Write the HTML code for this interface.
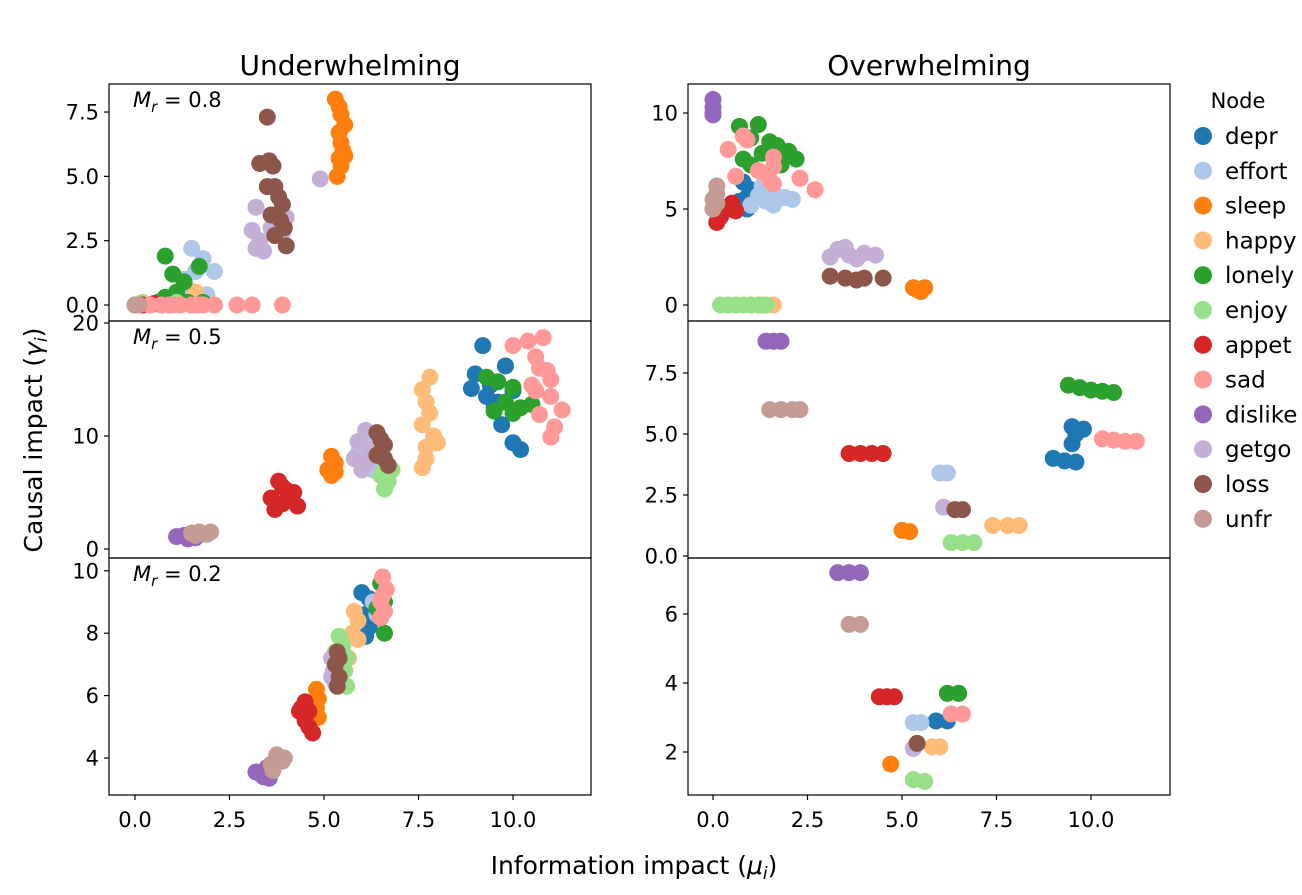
<!DOCTYPE html>
<html><head><meta charset="utf-8"><style>
html,body{margin:0;padding:0;background:#fff;width:1302px;height:895px;overflow:hidden}
svg{display:block;font-family:"DejaVu Sans","Liberation Sans",sans-serif}
</style></head><body>
<svg id="chart" width="1302" height="895" viewBox="0 0 1302 895" xmlns="http://www.w3.org/2000/svg"></svg>
<script>
const nodes = ["depr","effort","sleep","happy","lonely","enjoy","appet","sad","dislike","getgo","loss","unfr"];
const colors = ["#1f77b4","#aec7e8","#ff7f0e","#ffbb78","#2ca02c","#98df8a","#d62728","#ff9896","#9467bd","#c5b0d5","#8c564b","#c49c94"];
const xTicks = [0, 2.5, 5, 7.5, 10];
const xTickLabels = ["0.0","2.5","5.0","7.5","10.0"];
const panelTitles = ["Underwhelming","Overwhelming"];
const rowLabels = ["M_r = 0.8","M_r = 0.5","M_r = 0.2"];

// [node, mu, gamma]
const underHigh = [
["depr",0.5,0.05],["effort",1.5,2.2],["effort",1.8,1.8],["effort",2.1,1.3],["effort",1.6,1.3],["effort",1.3,1.0],["effort",1.9,0.4],["effort",1.4,0.6],["effort",1.6,0.0],["effort",1.2,0.3],
["sleep",5.3,8.0],["sleep",5.4,7.7],["sleep",5.45,7.4],["sleep",5.55,7.0],["sleep",5.4,6.7],["sleep",5.45,6.3],["sleep",5.5,6.0],["sleep",5.4,5.7],["sleep",5.45,5.4],["sleep",5.35,5.0],["sleep",5.55,5.8],
["happy",1.6,0.5],["happy",1.3,0.1],
["lonely",0.8,1.9],["lonely",1.0,1.2],["lonely",1.7,1.5],["lonely",1.3,0.9],["lonely",1.1,0.5],["lonely",0.8,0.3],["lonely",1.8,0.1],["lonely",0.6,0.1],["lonely",1.4,0.1],
["enjoy",0.2,0.1],["enjoy",1.1,0.1],["appet",0.5,0.05],["appet",0.2,0],
["sad",0.4,0],["sad",0.7,0],["sad",1.0,0],["sad",1.2,0],["sad",1.5,0],["sad",1.8,0],["sad",2.1,0],["sad",2.7,0],["sad",3.1,0],["sad",3.9,0],["sad",1.7,0],["sad",0.9,0],
["dislike",0,0],
["getgo",4.9,4.9],["getgo",3.2,3.8],["getgo",3.1,2.9],["getgo",3.4,2.1],["getgo",3.3,2.5],["getgo",3.6,3.0],["getgo",4.0,3.4],["getgo",3.9,2.8],["getgo",3.2,2.2],
["loss",3.5,7.3],["loss",3.3,5.5],["loss",3.55,5.6],["loss",3.65,5.4],["loss",3.5,4.6],["loss",3.7,4.6],["loss",3.8,4.2],["loss",3.9,3.9],["loss",3.6,3.5],["loss",3.95,3.0],["loss",3.7,2.7],["loss",4.0,2.3],["loss",3.85,3.3],
["unfr",0,0],["unfr",0.1,0]];
const underMid = [
["depr",9.2,18.0],["depr",9.0,15.5],["depr",9.8,16.2],["depr",9.4,14.5],["depr",8.9,14.2],["depr",9.5,12.5],["depr",9.7,11.0],["depr",10.0,9.4],["depr",10.2,8.8],["depr",9.3,13.5],["depr",9.6,13.0],["depr",10.0,14.0],
["effort",6.2,10.0],["effort",5.9,8.5],["effort",6.0,7.8],["effort",6.3,7.0],["effort",6.1,9.3],
["sleep",5.2,8.2],["sleep",5.3,7.6],["sleep",5.1,7.0],["sleep",5.2,6.5],["sleep",5.3,6.8],
["happy",7.8,15.2],["happy",7.6,14.1],["happy",7.7,13.0],["happy",7.8,12.0],["happy",7.6,11.0],["happy",7.9,10.0],["happy",7.7,9.0],["happy",8.0,9.4],["happy",7.7,8.0],["happy",7.6,7.2],
["lonely",9.3,15.2],["lonely",9.6,14.8],["lonely",10.0,14.3],["lonely",9.8,13.0],["lonely",10.2,12.5],["lonely",10.5,12.8],["lonely",10.0,12.0],["lonely",9.5,12.2],
["enjoy",6.6,7.2],["enjoy",6.5,6.5],["enjoy",6.7,6.0],["enjoy",6.6,5.3],["enjoy",6.8,7.0],
["appet",3.8,6.0],["appet",4.0,5.2],["appet",4.2,5.0],["appet",3.6,4.5],["appet",3.9,4.0],["appet",4.1,4.3],["appet",3.7,3.5],["appet",4.3,3.8],["appet",3.9,5.5],
["sad",10.4,18.4],["sad",10.8,18.7],["sad",10.0,18.0],["sad",10.6,17.0],["sad",10.7,16.0],["sad",11.0,15.0],["sad",10.5,14.5],["sad",11.0,13.5],["sad",10.6,14.0],["sad",11.3,12.3],["sad",10.7,11.9],["sad",11.1,10.8],["sad",11.0,9.9],["sad",10.9,15.8],
["dislike",1.1,1.1],["dislike",1.4,0.9],["dislike",1.6,1.0],["dislike",1.3,1.2],
["getgo",6.1,10.5],["getgo",5.9,9.5],["getgo",6.2,8.8],["getgo",5.8,8.0],["getgo",6.1,7.5],["getgo",6.0,7.0],
["loss",6.4,10.3],["loss",6.5,9.7],["loss",6.6,9.2],["loss",6.5,8.6],["loss",6.6,8.0],["loss",6.7,7.4],["loss",6.4,8.3],
["unfr",1.5,1.4],["unfr",1.7,1.5],["unfr",1.9,1.3],["unfr",2.0,1.5],["unfr",1.6,1.2]];
const underLow = [
["depr",6.0,9.3],["depr",6.2,9.1],["depr",6.1,8.6],["depr",6.2,8.2],["depr",6.1,7.9],
["effort",6.3,9.0],["effort",6.4,8.6],
["sleep",4.8,6.2],["sleep",4.85,5.9],["sleep",4.8,5.6],["sleep",4.85,5.3],
["happy",5.8,8.7],["happy",5.9,8.4],["happy",5.75,8.0],["happy",5.9,7.8],["happy",5.65,7.2],
["lonely",6.5,9.6],["lonely",6.6,9.0],["lonely",6.5,8.5],["lonely",6.6,8.0],["lonely",6.4,8.8],
["enjoy",5.4,7.9],["enjoy",5.5,7.6],["enjoy",5.6,7.2],["enjoy",5.55,6.8],["enjoy",5.6,6.3],["enjoy",5.3,7.4],
["appet",4.4,5.6],["appet",4.5,5.8],["appet",4.6,5.5],["appet",4.5,5.2],["appet",4.6,5.0],["appet",4.7,4.8],["appet",4.35,5.5],
["sad",6.55,9.8],["sad",6.65,9.4],["sad",6.5,9.0],["sad",6.6,8.7],["sad",6.5,8.5],["sad",6.55,9.2],
["dislike",3.2,3.55],["dislike",3.4,3.4],["dislike",3.5,3.7],["dislike",3.55,3.35],["dislike",3.3,3.5],
["getgo",5.2,7.2],["getgo",5.25,6.8],["getgo",5.3,6.4],["getgo",5.2,6.6],
["loss",5.35,7.4],["loss",5.3,7.0],["loss",5.4,6.6],["loss",5.35,6.3],["loss",5.4,7.2],
["unfr",3.6,3.8],["unfr",3.75,4.1],["unfr",3.9,3.9],["unfr",3.65,3.6],["unfr",3.95,4.0]];
const overHigh = [
["depr",0.8,6.4],["depr",1.0,6.0],["depr",0.9,5.6],["depr",1.0,5.2],["depr",0.9,5.0],["depr",0.7,5.4],
["effort",1.3,6.2],["effort",1.5,5.9],["effort",1.8,5.6],["effort",1.4,5.4],["effort",2.1,5.5],["effort",1.6,5.2],["effort",1.9,5.6],["effort",1.2,5.7],["effort",1.0,5.2],
["sleep",5.3,0.9],["sleep",5.5,0.7],["sleep",5.4,0.8],["sleep",5.6,0.9],
["happy",1.0,0],["happy",1.3,0],["happy",1.6,0],
["lonely",0.7,9.3],["lonely",1.2,9.4],["lonely",1.0,8.7],["lonely",1.5,8.5],["lonely",1.7,8.3],["lonely",0.8,7.6],["lonely",1.3,7.9],["lonely",2.0,8.0],["lonely",2.2,7.6],["lonely",1.0,7.3],["lonely",1.8,7.3],
["enjoy",0.2,0],["enjoy",0.4,0],["enjoy",0.6,0],["enjoy",0.8,0],["enjoy",1.0,0],["enjoy",1.2,0],["enjoy",1.4,0],
["appet",0.1,4.3],["appet",0.2,4.6],["appet",0.4,5.0],["appet",0.5,5.3],["appet",0.2,5.1],["appet",0.6,4.9],
["sad",0.8,8.8],["sad",0.9,8.6],["sad",0.4,8.1],["sad",1.6,7.7],["sad",1.6,7.2],["sad",1.2,7.0],["sad",0.6,6.7],["sad",1.5,6.5],["sad",2.3,6.6],["sad",2.7,6.0],["sad",1.6,6.3],["sad",1.4,6.8],
["dislike",0,10.7],["dislike",0,10.3],["dislike",0,9.9],["dislike",0,10.0],
["getgo",3.3,2.9],["getgo",3.5,3.0],["getgo",3.6,2.6],["getgo",4.0,2.7],["getgo",4.3,2.6],["getgo",3.1,2.5],["getgo",3.8,2.4],
["loss",3.1,1.5],["loss",3.5,1.4],["loss",4.0,1.4],["loss",4.5,1.4],["loss",3.8,1.3],
["unfr",0.1,6.2],["unfr",0.1,5.8],["unfr",0.0,5.5],["unfr",0.1,5.3],["unfr",0.0,5.0]];
const overMid = [
["depr",9.0,4.0],["depr",9.3,3.9],["depr",9.6,3.85],["depr",9.5,4.6],["depr",9.5,5.3],["depr",9.8,5.2],["depr",9.6,5.0],
["effort",6.0,3.4],["effort",6.2,3.4],
["sleep",5.0,1.05],["sleep",5.2,1.0],
["happy",7.4,1.25],["happy",7.8,1.25],["happy",8.1,1.25],
["lonely",9.4,7.0],["lonely",9.7,6.9],["lonely",10.0,6.8],["lonely",10.3,6.75],["lonely",10.6,6.7],
["enjoy",6.3,0.55],["enjoy",6.6,0.55],["enjoy",6.9,0.55],
["appet",3.6,4.2],["appet",3.9,4.2],["appet",4.2,4.2],["appet",4.5,4.2],
["sad",10.3,4.8],["sad",10.6,4.75],["sad",10.9,4.7],["sad",11.2,4.7],
["dislike",1.4,8.8],["dislike",1.6,8.8],["dislike",1.8,8.8],
["getgo",6.1,2.0],
["loss",6.4,1.9],["loss",6.6,1.9],
["unfr",1.5,6.0],["unfr",1.8,6.0],["unfr",2.1,6.0],["unfr",2.3,6.0]];
const overLow = [
["depr",5.9,2.9],["depr",6.2,2.9],
["effort",5.3,2.85],["effort",5.5,2.85],
["sleep",4.7,1.65],
["happy",5.8,2.15],["happy",6.0,2.15],
["lonely",6.2,3.7],["lonely",6.5,3.7],
["enjoy",5.3,1.2],["enjoy",5.6,1.15],
["appet",4.4,3.6],["appet",4.6,3.6],["appet",4.8,3.6],
["sad",6.3,3.1],["sad",6.6,3.1],
["dislike",3.3,7.2],["dislike",3.6,7.2],["dislike",3.9,7.2],
["getgo",5.3,2.1],
["loss",5.4,2.25],
["unfr",3.6,5.7],["unfr",3.9,5.7]];

const NS="http://www.w3.org/2000/svg";
const svg=document.getElementById('chart');
function mk(tag,attrs,parent){const e=document.createElementNS(NS,tag);for(const k in attrs)e.setAttribute(k,attrs[k]);(parent||svg).appendChild(e);return e;}

const cols=[{x0:109,x1:591,zero:135},{x0:688,x1:1170,zero:713}];
const rows=[{y0:84,y1:321},{y0:321,y1:558},{y0:558,y1:795}];
const pxPerMu=37.8;
const yAxes=[
 [{v0:0,p0:305,s:25.73,ticks:[0,2.5,5,7.5],lab:["0.0","2.5","5.0","7.5"]},
  {v0:0,p0:305,s:19.2,ticks:[0,5,10],lab:["0","5","10"]}],
 [{v0:0,p0:549,s:11.3,ticks:[0,10,20],lab:["0","10","20"]},
  {v0:0,p0:556,s:24.4,ticks:[0,2.5,5,7.5],lab:["0.0","2.5","5.0","7.5"]}],
 [{v0:4,p0:758,s:31.2,ticks:[4,6,8,10],lab:["4","6","8","10"]},
  {v0:2,p0:752,s:34.5,ticks:[2,4,6],lab:["2","4","6"]}]];
const panelData=[[underHigh,overHigh],[underMid,overMid],[underLow,overLow]];
const panelNames=[["under-high","over-high"],["under-mid","over-mid"],["under-low","over-low"]];

const defs=mk('defs',{});
for(let r=0;r<3;r++)for(let c=0;c<2;c++){
  const col=cols[c],row=rows[r],ya=yAxes[r][c];
  const xs=v=>col.zero+v*pxPerMu;
  const ys=v=>ya.p0-(v-ya.v0)*ya.s;
  const cp=mk('clipPath',{id:'clip'+r+c},defs);
  mk('rect',{x:col.x0,y:row.y0,width:col.x1-col.x0,height:row.y1-row.y0},cp);
  const g=mk('g',{'clip-path':'url(#clip'+r+c+')'});
  
  
  const data=panelData[r][c];
  nodes.forEach((n,i)=>{
    data.filter(d=>d[0]===n).forEach(d=>{
      const p=mk('circle',{cx:xs(d[1]),cy:ys(d[2]),r:8.5,fill:colors[i]},g);
      
      
    });
  });
  const fr=mk('rect',{x:col.x0,y:row.y0,width:col.x1-col.x0,height:row.y1-row.y0,fill:'none',stroke:'#000','stroke-width':1.2});
  
  
  ya.ticks.forEach((t,k)=>{
    const y=ys(t);
    mk('line',{x1:col.x0-5,x2:col.x0,y1:y,y2:y,stroke:'#000','stroke-width':1.2});
    const tx=mk('text',{x:col.x0-10,y:y+7.5,'text-anchor':'end','font-size':21});
    tx.textContent=ya.lab[k];
    
    
  });
  if(c===0){
    const lt=mk('text',{x:133,y:row.y0+23,'font-size':21});
    
    
    const parts=rowLabels[r].split(' = ');
    const t1=mk('tspan',{'font-style':'italic'},lt);t1.textContent='M';
    const t2=mk('tspan',{'font-style':'italic','font-size':15,dy:5},lt);t2.textContent='r';
    const t3=mk('tspan',{dy:-5},lt);t3.textContent=' = '+parts[1];
  }
  if(r===2){
    xTicks.forEach((t,k)=>{
      const x=xs(t);
      mk('line',{x1:x,x2:x,y1:795,y2:800,stroke:'#000','stroke-width':1.2});
      const tx=mk('text',{x:x,y:827,'text-anchor':'middle','font-size':21});
      tx.textContent=xTickLabels[k];
      
      
    });
  }
}
panelTitles.forEach((t,c)=>{
  const tx=mk('text',{x:(cols[c].x0+cols[c].x1)/2,y:75,'text-anchor':'middle','font-size':28});
  tx.textContent=t;
  
  
});
const xl=mk('text',{x:634,y:874,'text-anchor':'middle','font-size':25});


xl.appendChild(document.createTextNode('Information impact ('));
let s=mk('tspan',{'font-style':'italic'},xl);s.textContent='μ';
s=mk('tspan',{'font-style':'italic','font-size':17,dy:5},xl);s.textContent='i';
s=mk('tspan',{dy:-5},xl);s.textContent=')';
const yl=mk('text',{x:0,y:0,'text-anchor':'middle','font-size':25,transform:'translate(42,440) rotate(-90)'});


yl.appendChild(document.createTextNode('Causal impact ('));
s=mk('tspan',{'font-style':'italic'},yl);s.textContent='γ';
s=mk('tspan',{'font-style':'italic','font-size':17,dy:5},yl);s.textContent='i';
s=mk('tspan',{dy:-5},yl);s.textContent=')';

const lg=mk('g',{});


const lt=mk('text',{x:1238,y:108,'text-anchor':'middle','font-size':21},lg);lt.textContent='Node';


nodes.forEach((n,i)=>{
  const y=136+i*34.8;
  const e=mk('g',{},lg);
  
  
  mk('circle',{cx:1203,cy:y,r:9,fill:colors[i]},e);
  const t=mk('text',{x:1225,y:y+8,'font-size':23},e);t.textContent=n;
});
</script>
</body></html>
